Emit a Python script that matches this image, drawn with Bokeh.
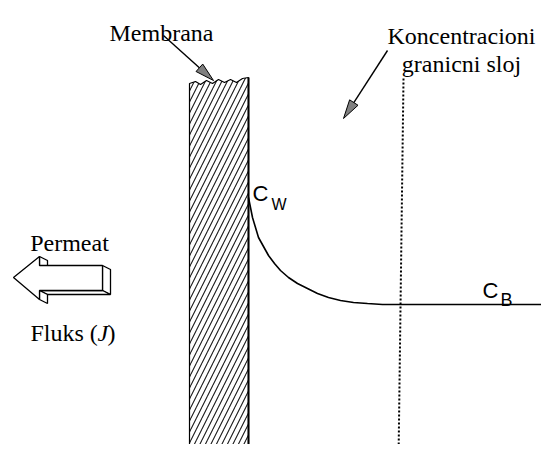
import numpy as np
from bokeh.plotting import figure
from bokeh.models import Range1d
from bokeh.core.properties import value
from bokeh.embed import file_html
from bokeh.resources import INLINE

# ---- data (reference pixel coordinates) ----
# membrane outline (wavy top and bottom edges)
memb_top_x = [189, 195, 200, 206, 212, 218, 224, 230, 236, 242, 248]
memb_top_y = [83, 81, 84, 80, 83, 79, 82, 79, 82, 78, 77]
memb_bot_x = [248, 243, 237, 231, 225, 219, 213, 207, 201, 195, 189]
memb_bot_y = [453, 455, 451, 455, 451, 455, 450, 454, 451, 455, 452]

# concentration profile (C_W at the wall decaying to C_B)
curve_x = [248, 250, 252, 255, 258, 263, 268, 274, 280, 288, 297, 307, 317, 328, 340, 353, 367, 382, 396, 557]
curve_y = [197, 207, 217, 227, 237, 246, 255, 263, 270, 277, 283, 288, 293, 297, 300, 302, 303, 304, 304, 304]

# boundary-layer edge (dotted)
bl_x = [403, 398]
bl_y = [78, 460]

# permeate block arrow (front face and depth offset)
arr_front_x = [13, 39, 39, 102, 102, 39, 39]
arr_front_y = [277, 256, 265, 265, 290, 290, 299]
arr_depth = [8, 4]

# label pointer arrows: start and end
ptr_x0 = [163, 387]
ptr_y0 = [35, 50]
ptr_x1 = [213, 343]
ptr_y1 = [80, 118]

labels_serif = ["Membrana", "Koncentracioni", "granicni sloj", "Permeat"]
labels_serif_x = [161, 461, 461, 69]
labels_serif_y = [32, 35, 63, 242]

p = figure(width=541, height=444, output_backend="svg", toolbar_location=None,
           x_range=Range1d(0, 541), y_range=Range1d(444, 0),
           min_border=0, outline_line_color=None)
p.axis.visible = False
p.grid.visible = False
p.background_fill_color = "white"
p.border_fill_color = "white"

# membrane
mx = memb_top_x + memb_bot_x
my = memb_top_y + memb_bot_y
p.patch(mx, my, fill_color="white", line_color="black", line_width=1.2,
        hatch_pattern="/", hatch_scale=11, hatch_color="#1a1a1a", hatch_weight=1.1)
p.line([memb_top_x[-1], memb_bot_x[0]], [memb_top_y[-1], memb_bot_y[0]],
       line_color="black", line_width=2)

# dotted boundary
p.line(bl_x, bl_y, line_color="black", line_width=2, line_dash="2 2")

# profile curve
p.line(curve_x, curve_y, line_color="black", line_width=1.6)

# block arrow 3D
dx, dy = arr_depth
fx, fy = arr_front_x, arr_front_y
def face(i, j):
    xs = [fx[i], fx[j], fx[j] + dx, fx[i] + dx]
    ys = [fy[i], fy[j], fy[j] + dy, fy[i] + dy]
    p.patch(xs, ys, fill_color="white", line_color="black", line_width=1.3)
face(3, 4)   # right end
face(4, 5)   # shaft bottom
face(1, 2)   # head upper step
face(5, 6)   # head lower step
p.patch(fx, fy, fill_color="white", line_color="black", line_width=1.3)

# label pointer arrows with slender grey heads
L, W = 19, 10
for x0, y0, x1, y1 in zip(ptr_x0, ptr_y0, ptr_x1, ptr_y1):
    s = np.array([x0, y0], float)
    e = np.array([x1, y1], float)
    u = (e - s) / np.linalg.norm(e - s)
    n = np.array([-u[1], u[0]])
    b = e - L * u
    p.line([s[0], b[0]], [s[1], b[1]], line_color="black", line_width=1.4)
    hx = [e[0], b[0] + n[0] * W / 2, b[0] - n[0] * W / 2]
    hy = [e[1], b[1] + n[1] * W / 2, b[1] - n[1] * W / 2]
    p.patch(hx, hy, fill_color="#808080", line_color="black", line_width=1)

# serif labels
serif = value("Liberation Serif")
p.text(x=labels_serif_x, y=labels_serif_y, text=labels_serif,
       text_font=serif, text_font_size="24px",
       text_align="center", text_baseline="alphabetic", text_color="black")
p.text(x=[30], y=[332], text=["Fluks ("], text_font=serif,
       text_font_size="24px", text_align="left", text_baseline="alphabetic", text_color="black")
p.text(x=[97], y=[332], text=["J"], text_font=serif, text_font_style="italic",
       text_font_size="24px", text_align="left", text_baseline="alphabetic", text_color="black")
p.text(x=[107], y=[332], text=[")"], text_font=serif,
       text_font_size="24px", text_align="left", text_baseline="alphabetic", text_color="black")

# concentration labels
sans = value("Liberation Sans")
p.text(x=[252], y=[193], text=["C"], text_font=sans, text_font_size="22px",
       text_align="left", text_baseline="alphabetic", text_color="black")
p.text(x=[271], y=[204], text=["W"], text_font=sans, text_font_size="16px",
       text_align="left", text_baseline="alphabetic", text_color="black")
p.text(x=[482], y=[290], text=["C"], text_font=sans, text_font_size="22px",
       text_align="left", text_baseline="alphabetic", text_color="black")
p.text(x=[500], y=[299], text=["B"], text_font=sans, text_font_size="18px",
       text_align="left", text_baseline="alphabetic", text_color="black")

open("out.html", "w").write(file_html(p, INLINE))
